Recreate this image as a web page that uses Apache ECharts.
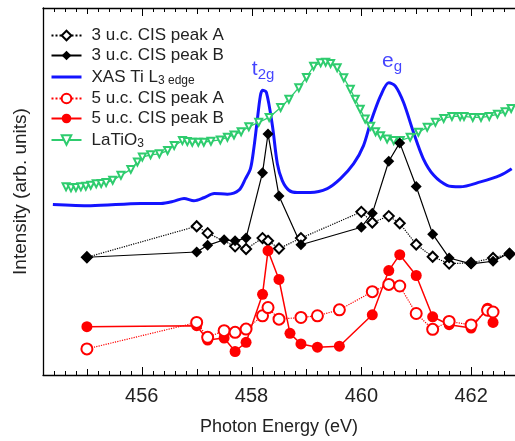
<!DOCTYPE html>
<html>
<head>
<meta charset="utf-8">
<script src="https://cdn.jsdelivr.net/npm/echarts@6/dist/echarts.min.js"></script>
<style>
  html, body { margin: 0; padding: 0; background: #fff; }
  #chart { width: 515px; height: 441px; }
</style>
</head>
<body>
<div id="chart"></div>
<script>
// 数据 (读自原图, 强度为任意单位)
const energyCIS = [455.0, 457.0, 457.2, 457.5, 457.7, 457.9, 458.2, 458.3, 458.5, 458.9, 460.0, 460.2, 460.5, 460.7, 461.0, 461.3, 461.6, 462.0, 462.4, 462.7]
const uc3PeakA = [118.7, 150, 143, null, 129.7, 127, 138, 135.3, 127.5, 138, 164.5, 153.7, 160.2, 153, 131.6, 119.2, 112.3, 113, 118, 122]
const uc3PeakB = [118.7, 124, 130.7, 136.3, 135.3, 138, 204, 243, 180.5, 131.3, 149, 163, 215.5, 234, 190, 142, 118, 112, 114.7, 123]

const energy5uc = [455.0, 457.0, 457.2, 457.5, 457.7, 457.9, 458.2, 458.3, 458.5, 458.7, 458.9, 459.2, 459.6, 460.2, 460.5, 460.7, 461.0, 461.3, 461.6, 462.0, 462.3, 462.4]
const uc5PeakA = [26.3, 53, 38, 44.7, 43, 46.3, 59.7, 68, 56.3, null, 58, 59.7, 65.7, 84, 91.3, 89.7, 62, 46, 54, 50.5, 65.3, 63.5]
const uc5PeakB = [48.7, 49.7, 35.3, 37.3, 23.7, 33, 81.3, 125.3, 96.3, 42, 31.3, 28, 29, 60.7, 105.3, 121.3, 100.3, 58.7, 50.7, 47.3, 67.3, 53]

const energyXAS = [454.38, 455.07, 455.98, 456.35, 456.59, 456.77, 456.95, 457.13, 457.32, 457.56, 457.77, 457.89, 457.98, 458.04, 458.1, 458.16, 458.2, 458.27, 458.38, 458.47, 458.56, 458.68, 458.83, 459.07, 459.38, 459.62, 459.86, 460.04, 460.17, 460.35, 460.5, 460.62, 460.77, 460.95, 461.13, 461.32, 461.56, 461.8, 462.17, 462.53, 462.74]
const xasTiL3 = [172, 170.7, 173, 173, 175.3, 178, 175.7, 178.7, 183, 182.3, 186.3, 198, 208, 228, 255, 281.3, 287, 285, 251.3, 213, 196, 186.3, 184, 184, 188, 198, 213, 231.3, 254.7, 281.3, 294.7, 291.3, 274.7, 244.7, 218, 201.3, 191.3, 189.7, 194.7, 201.3, 208]

const energyLTO = [454.62, 454.71, 454.8, 454.89, 454.98, 455.07, 455.17, 455.26, 455.35, 455.47, 455.62, 455.8, 455.92, 456.01, 456.16, 456.32, 456.47, 456.59, 456.74, 456.83, 456.92, 457.03, 457.13, 457.26, 457.43, 457.56, 457.68, 457.81, 457.95, 458.13, 458.32, 458.53, 458.68, 458.86, 459.0, 459.13, 459.26, 459.35, 459.44, 459.56, 459.68, 459.8, 459.89, 459.98, 460.07, 460.17, 460.26, 460.35, 460.47, 460.59, 460.71, 460.89, 461.04, 461.2, 461.35, 461.5, 461.65, 461.8, 461.87, 462.03, 462.18, 462.33, 462.48, 462.62, 462.73]
const laTiO3 = [189.7, 188.7, 189, 189.7, 190.3, 191.3, 192.7, 193, 194, 196.3, 201.3, 207.3, 214.7, 219.7, 222, 223, 226.3, 231.3, 236.3, 235.3, 234.7, 234.7, 234.7, 235.7, 237, 239.7, 242, 245.3, 250.3, 254.7, 259.7, 269.7, 278, 289.7, 300, 311.3, 314.7, 315.3, 314, 309.7, 299.7, 288, 278, 268, 258, 250.7, 245.3, 241.3, 238, 236.3, 236.3, 239.7, 244.7, 249.7, 254.7, 258.7, 260.7, 260.7, 260.7, 259.7, 259.7, 260.7, 263, 265.3, 268.7]

// 刻度: 2 eV 主刻度(带标签), 1 eV 中刻度, 0.2 eV 小刻度
const labelTicks = [456, 458, 460, 462]
const midTicks = [455, 457, 459, 461]
const minorTicks = []
for (let i = 2272; i <= 2313; i++) { if (i % 5 !== 0) minorTicks.push(i / 5) }

const FONT = 'Liberation Sans, Arial, Helvetica, sans-serif'
const BLUE = '#1414ff'
const RED = '#ff0000'
const GREEN = '#2ecc6e'
const YMAX = 370

const pair = (xs, ys) => xs.map((x, i) => [x, ys[i]])

const tickData = [].concat(
    labelTicks.map(v => [v, 8]),
    midTicks.map(v => [v, 6]),
    minorTicks.map(v => [v, 4])
)

// 上下坐标轴向内的刻度 (用矩形画)
function renderTick(params, api) {
    let x = api.value(0)
    let len = api.value(1)
    let b = api.coord([x, 0])
    let t = api.coord([x, YMAX])
    let px = Math.round(b[0])
    return {
        type: 'group',
        children: [
            {type: 'rect', shape: {x: px, y: b[1] - len, width: 1, height: len}, style: {fill: '#000'}},
            {type: 'rect', shape: {x: px, y: t[1], width: 1, height: len}, style: {fill: '#000'}}
        ]
    }
}

const legendNames = ['3 u.c. CIS peak A', '3 u.c. CIS peak B', 'XAS Ti L3 edge', '5 u.c. CIS peak A', '5 u.c. CIS peak B', 'LaTiO3']

let option = {
    animation: false,
    backgroundColor: '#fff',
    grid: {left: 43, right: 0, top: 8, bottom: 63},
    xAxis: [
        {
            type: 'value', position: 'bottom', min: 454.2, max: 462.8,
            name: 'Photon Energy (eV)', nameLocation: 'middle', nameGap: 43,
            nameTextStyle: {fontSize: 18, color: '#222', fontFamily: FONT},
            axisLine: {show: true, lineStyle: {color: '#000', width: 1.3}},
            axisTick: {show: false},
            axisLabel: {show: true, customValues: labelTicks, margin: 11, fontSize: 20, color: '#222', fontFamily: FONT},
            splitLine: {show: false}
        },
        {
            type: 'value', position: 'top', min: 454.2, max: 462.8,
            axisLine: {show: true, lineStyle: {color: '#000', width: 1.3}},
            axisTick: {show: false}, axisLabel: {show: false}, splitLine: {show: false}
        }
    ],
    yAxis: {
        type: 'value', min: 0, max: YMAX,
        name: 'Intensity (arb. units)', nameLocation: 'middle', nameGap: 13,
        nameTextStyle: {fontSize: 19, color: '#222', fontFamily: FONT},
        axisLine: {show: true, lineStyle: {color: '#000', width: 1.3}},
        axisTick: {show: false}, axisLabel: {show: false}, splitLine: {show: false}
    },
    legend: {
        data: legendNames.map(n => n === 'XAS Ti L3 edge'
            ? {name: n, itemStyle: {opacity: 0}, lineStyle: {width: 3, color: BLUE}}
            : n),
        orient: 'vertical', left: 45, top: 22,
        itemWidth: 30, itemHeight: 12, itemGap: 3,
        textStyle: {
            fontSize: 17, color: '#222', fontFamily: FONT,
            rich: {
                m: {fontSize: 17, lineHeight: 17, color: '#222', fontFamily: FONT, padding: [0, 0, 0, 5]},
                s: {fontSize: 12, lineHeight: 12, padding: [8, 0, 0, 0], color: '#222', fontFamily: FONT}
            }
        },
        formatter: function (name) {
            if (name === 'XAS Ti L3 edge') return '{m|XAS Ti L}{s|3 edge}'
            if (name === 'LaTiO3') return '{m|LaTiO}{s|3}'
            return '{m|' + name + '}'
        }
    },
    series: [
        {
            name: 'ticks', type: 'custom', data: tickData, renderItem: renderTick,
            silent: true, clip: false, z: 5
        },
        {
            name: 'XAS Ti L3 edge', type: 'line', data: pair(energyXAS, xasTiL3),
            symbol: 'none', smooth: 0.3,
            lineStyle: {color: BLUE, width: 3}, itemStyle: {color: BLUE}
        },
        {
            name: 'LaTiO3', type: 'line', data: pair(energyLTO, laTiO3),
            symbol: 'emptyTriangle', symbolRotate: 180, symbolSize: 7,
            lineStyle: {color: GREEN, width: 1.3}, itemStyle: {color: GREEN, borderWidth: 1}
        },
        {
            name: '3 u.c. CIS peak A', type: 'line', data: pair(energyCIS, uc3PeakA), connectNulls: true,
            symbol: 'emptyDiamond', symbolSize: 10,
            lineStyle: {color: '#000', width: 1.2, type: 'dotted'}, itemStyle: {color: '#000', borderWidth: 1}
        },
        {
            name: '3 u.c. CIS peak B', type: 'line', data: pair(energyCIS, uc3PeakB),
            symbol: 'diamond', symbolSize: 11,
            lineStyle: {color: '#000', width: 1.2}, itemStyle: {color: '#000'}
        },
        {
            name: '5 u.c. CIS peak B', type: 'line', data: pair(energy5uc, uc5PeakB),
            symbol: 'circle', symbolSize: 11,
            lineStyle: {color: RED, width: 1.5}, itemStyle: {color: RED}
        },
        {
            name: '5 u.c. CIS peak A', type: 'line', data: pair(energy5uc, uc5PeakA), connectNulls: true,
            symbol: 'emptyCircle', symbolSize: 11,
            lineStyle: {color: RED, width: 1.2, type: 'dotted'}, itemStyle: {color: RED, borderWidth: 1}
        },
        {
            name: 'annot', type: 'scatter', symbolSize: 0, silent: true,
            data: [
                {value: [458.21, 308], label: {formatter: '{m|t}{s|2g}'}},
                {value: [460.56, 316], label: {formatter: '{m|e}{s|g}'}}
            ],
            label: {
                show: true, position: 'inside', color: BLUE,
                rich: {
                    m: {fontSize: 21, lineHeight: 21, color: BLUE, fontFamily: FONT},
                    s: {fontSize: 15, lineHeight: 15, padding: [10, 0, 0, 0], color: BLUE, fontFamily: FONT}
                }
            }
        }
    ]
}

let myChart = echarts.init(document.getElementById('chart'))
myChart.setOption(option)
</script>
</body>
</html>
